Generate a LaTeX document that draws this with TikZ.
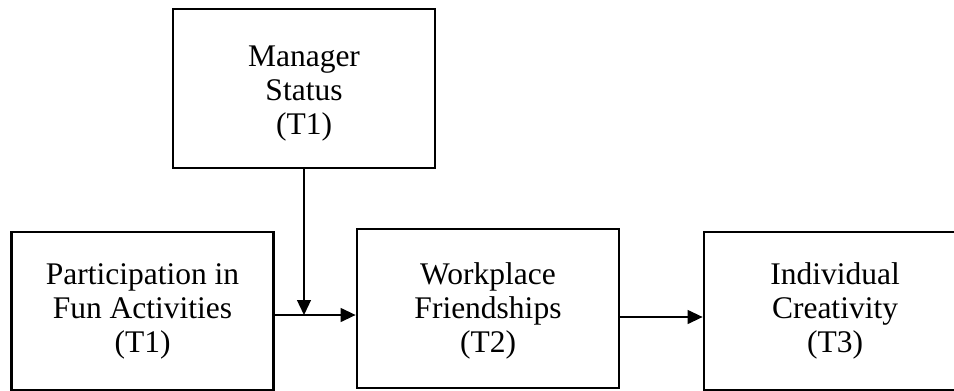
\documentclass[tikz,border=0pt]{standalone}
\usepackage{fontspec}
\setmainfont{Liberation Serif}
\usetikzlibrary{arrows.meta}
\newcommand{\boxtext}[2]{\raisebox{#1}[\height][\depth]{\begin{tabular}{@{}c@{}}#2\end{tabular}}}

\begin{document}
\begin{tikzpicture}[x=1pt, y=-1pt,
    varbox/.style={draw, line width=2.8pt, rectangle, minimum width=262pt, minimum height=159pt,
      align=center, font=\fontsize{31.5}{34}\selectfont},
    link/.style={line width=1.3pt, -{Triangle[length=15pt,width=14pt]}}]
      \useasboundingbox (0,0) rectangle (954,391);
      % boxes
      \node[varbox] (mgr) at (304,88.5) {\boxtext{-5pt}{Manager\\Status\\(T1)}};
      \node[varbox, minimum height=158pt] (fun) at (142.5,311) {Participation in\\Fun Activities\\(T1)};
      \node[varbox] (friend) at (488,308.5) {\boxtext{-3pt}{Workplace\\Friendships\\(T2)}};
      \node[varbox, minimum height=158pt] (create) at (835,311) {Individual\\Creativity\\(T3)};
      % moderator meets the main path here
      \coordinate (meet) at (304,315);
      % arrows
      \draw[link] (fun.east |- meet) -- (friend.west |- meet);
      \draw[link] (mgr.south) -- (meet);
      \draw[link] ([yshift=-8.5pt]friend.east) -- ([yshift=-8.5pt]friend.east -| create.west);
    \end{tikzpicture}
\end{document}
